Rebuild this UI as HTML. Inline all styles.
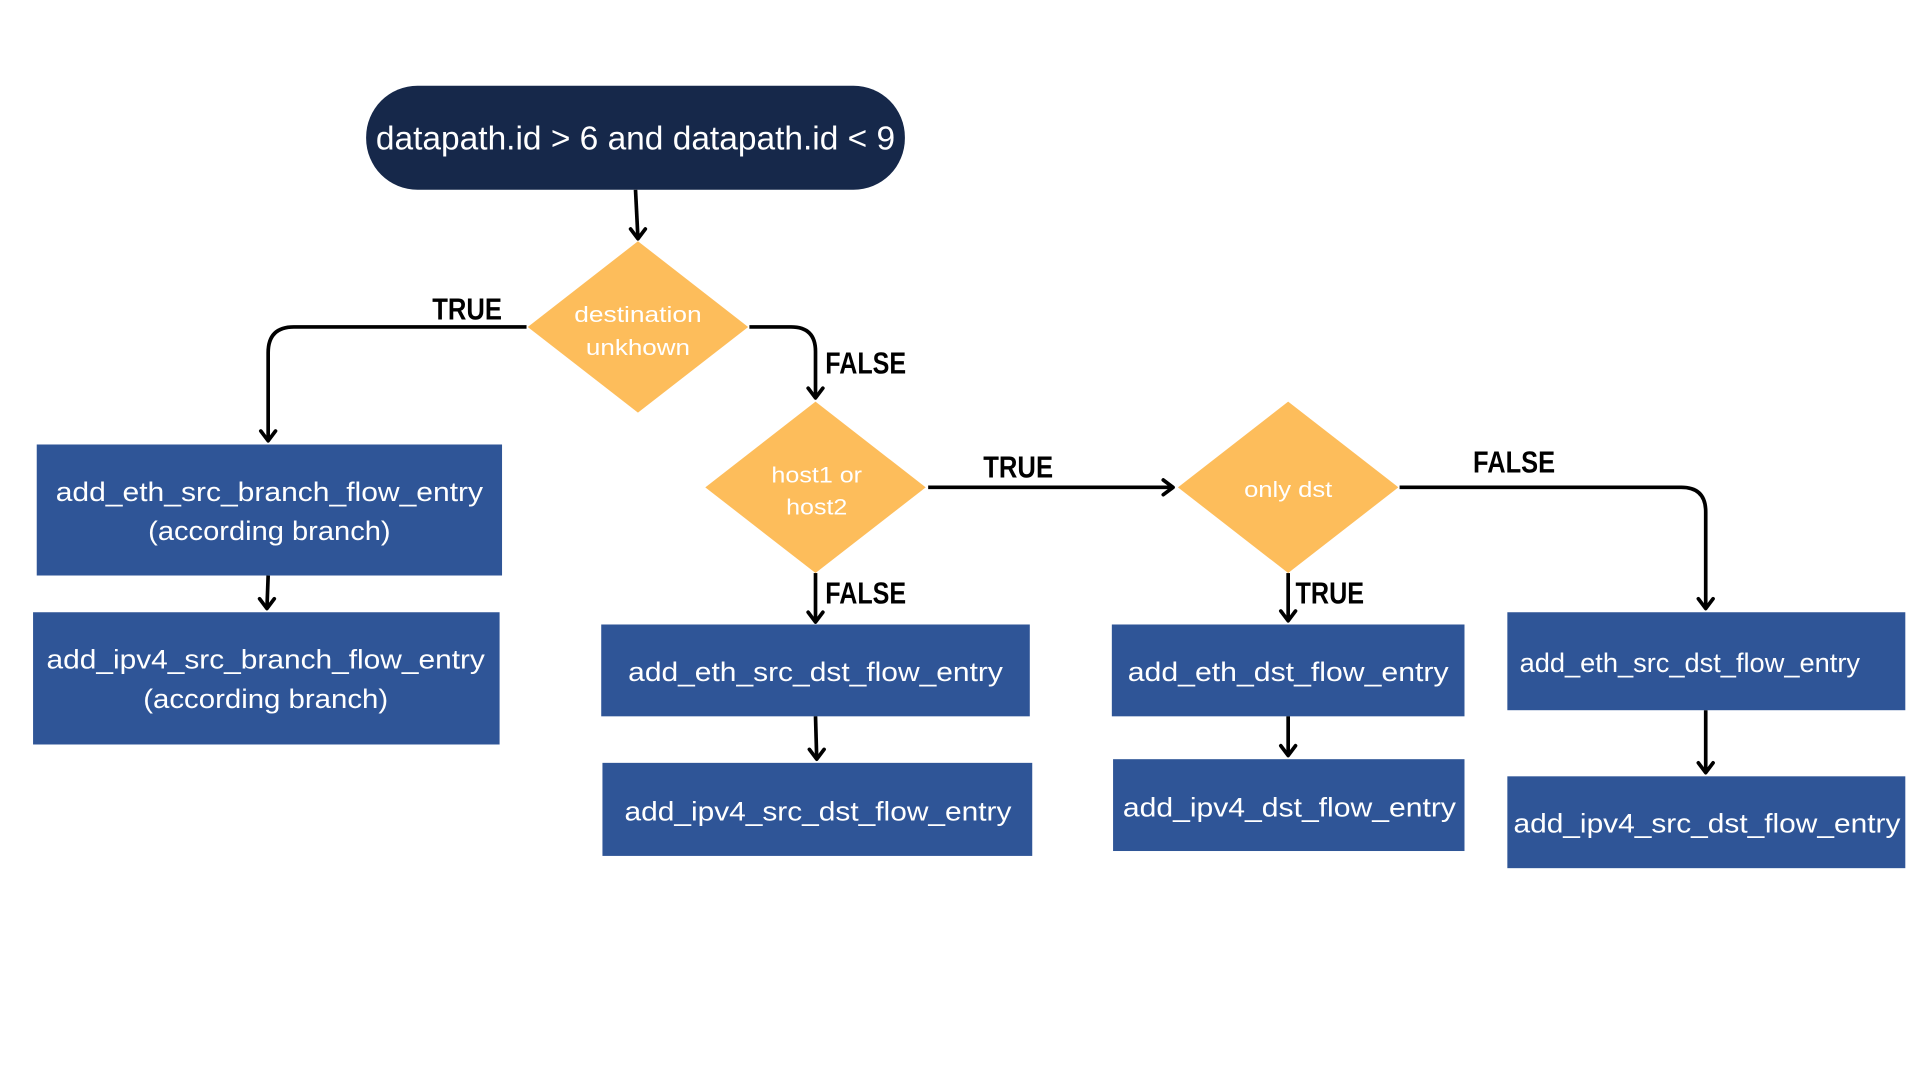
<!DOCTYPE html>
<html><head><meta charset="utf-8"><style>
html,body{margin:0;padding:0;background:#fff;}
svg{display:block;}
.bt{fill:#fff;font-family:"Liberation Sans",sans-serif;font-size:22px;}
.dt{fill:#fff;font-family:"Liberation Sans",sans-serif;font-size:18px;}
.lb{fill:#000;font-family:"Liberation Sans Narrow","Liberation Sans",sans-serif;font-weight:bold;font-size:25px;}
.ln{stroke:#000;stroke-width:3;fill:none;}
.ah{stroke:#000;stroke-width:3;fill:none;stroke-linecap:round;stroke-linejoin:round;}
</style></head><body>
<svg width="1920" height="1080" viewBox="0 0 1568 882" xmlns="http://www.w3.org/2000/svg">
<rect x="0" y="0" width="1568" height="882" fill="#fff"/>
<!-- pill -->
<rect x="299" y="70" width="440" height="85" rx="42" fill="#16284a"/>
<text x="519" y="122" text-anchor="middle" fill="#fff" font-family="Liberation Sans, sans-serif" font-size="27" textLength="424" lengthAdjust="spacingAndGlyphs">datapath.id &gt; 6 and datapath.id &lt; 9</text>

<!-- diamonds -->
<polygon points="521,197 611,267 521,337 431,267" fill="#fdbd5b"/>
<polygon points="666,328 756,398 666,468 576,398" fill="#fdbd5b"/>
<polygon points="1052,328 1142,398 1052,468 962,398" fill="#fdbd5b"/>
<text class="dt" x="521" y="263" text-anchor="middle" textLength="104" lengthAdjust="spacingAndGlyphs">destination</text>
<text class="dt" x="521" y="290" text-anchor="middle" textLength="85" lengthAdjust="spacingAndGlyphs">unkhown</text>
<text class="dt" x="667" y="394" text-anchor="middle" textLength="74" lengthAdjust="spacingAndGlyphs">host1 or</text>
<text class="dt" x="667" y="420" text-anchor="middle" textLength="50" lengthAdjust="spacingAndGlyphs">host2</text>
<text class="dt" x="1052" y="406" text-anchor="middle" textLength="72" lengthAdjust="spacingAndGlyphs">only dst</text>

<!-- boxes -->
<g fill="#2f5597">
<rect x="30" y="363" width="380" height="107"/>
<rect x="27" y="500" width="381" height="108"/>
<rect x="491" y="510" width="350" height="75"/>
<rect x="492" y="623" width="351" height="76"/>
<rect x="908" y="510" width="288" height="75"/>
<rect x="909" y="620" width="287" height="75"/>
<rect x="1231" y="500" width="325" height="80"/>
<rect x="1231" y="634" width="325" height="75"/>
</g>
<text class="bt" x="220" y="409" text-anchor="middle" textLength="349" lengthAdjust="spacingAndGlyphs">add_eth_src_branch_flow_entry</text>
<text class="bt" x="220" y="441" text-anchor="middle" textLength="198" lengthAdjust="spacingAndGlyphs">(according branch)</text>
<text class="bt" x="217" y="546" text-anchor="middle" textLength="358" lengthAdjust="spacingAndGlyphs">add_ipv4_src_branch_flow_entry</text>
<text class="bt" x="217" y="578" text-anchor="middle" textLength="200" lengthAdjust="spacingAndGlyphs">(according branch)</text>
<text class="bt" x="666" y="556" text-anchor="middle" textLength="306" lengthAdjust="spacingAndGlyphs">add_eth_src_dst_flow_entry</text>
<text class="bt" x="668" y="670" text-anchor="middle" textLength="316" lengthAdjust="spacingAndGlyphs">add_ipv4_src_dst_flow_entry</text>
<text class="bt" x="1052" y="556" text-anchor="middle" textLength="262" lengthAdjust="spacingAndGlyphs">add_eth_dst_flow_entry</text>
<text class="bt" x="1053" y="667" text-anchor="middle" textLength="272" lengthAdjust="spacingAndGlyphs">add_ipv4_dst_flow_entry</text>
<text class="bt" x="1380" y="549" text-anchor="middle" textLength="278" lengthAdjust="spacingAndGlyphs">add_eth_src_dst_flow_entry</text>
<text class="bt" x="1394" y="680" text-anchor="middle" textLength="316" lengthAdjust="spacingAndGlyphs">add_ipv4_src_dst_flow_entry</text>

<!-- connectors -->
<path class="ln" d="M519,155 L521,195"/>
<path class="ah" d="M515,187 L521,195 L527,187"/>
<path class="ln" d="M430,267 L240,267 Q219,267 219,288 L219,360"/>
<path class="ah" d="M213,352 L219,360 L225,352"/>
<path class="ln" d="M612,267 L646,267 Q666,267 666,287 L666,325"/>
<path class="ah" d="M660,317 L666,325 L672,317"/>
<path class="ln" d="M758,398 L958,398"/>
<path class="ah" d="M950,392 L958,398 L950,404"/>
<path class="ln" d="M666,468 L666,508"/>
<path class="ah" d="M660,500 L666,508 L672,500"/>
<path class="ln" d="M1143,398 L1373,398 Q1393,398 1393,418 L1393,497"/>
<path class="ah" d="M1387,489 L1393,497 L1399,489"/>
<path class="ln" d="M1052,468 L1052,507"/>
<path class="ah" d="M1046,499 L1052,507 L1058,499"/>
<path class="ln" d="M219,470 L218,497"/>
<path class="ah" d="M212,489 L218,497 L224,489"/>
<path class="ln" d="M666,585 L667,620"/>
<path class="ah" d="M661,612 L667,620 L673,612"/>
<path class="ln" d="M1052,585 L1052,617"/>
<path class="ah" d="M1046,609 L1052,617 L1058,609"/>
<path class="ln" d="M1393,580 L1393,631"/>
<path class="ah" d="M1387,623 L1393,631 L1399,623"/>

<!-- labels -->
<text class="lb" x="353" y="261" textLength="57" lengthAdjust="spacingAndGlyphs">TRUE</text>
<text class="lb" x="674" y="305" textLength="66" lengthAdjust="spacingAndGlyphs">FALSE</text>
<text class="lb" x="803" y="390" textLength="57" lengthAdjust="spacingAndGlyphs">TRUE</text>
<text class="lb" x="674" y="493" textLength="66" lengthAdjust="spacingAndGlyphs">FALSE</text>
<text class="lb" x="1203" y="386" textLength="67" lengthAdjust="spacingAndGlyphs">FALSE</text>
<text class="lb" x="1058" y="493" textLength="56" lengthAdjust="spacingAndGlyphs">TRUE</text>
</svg>
</body></html>
